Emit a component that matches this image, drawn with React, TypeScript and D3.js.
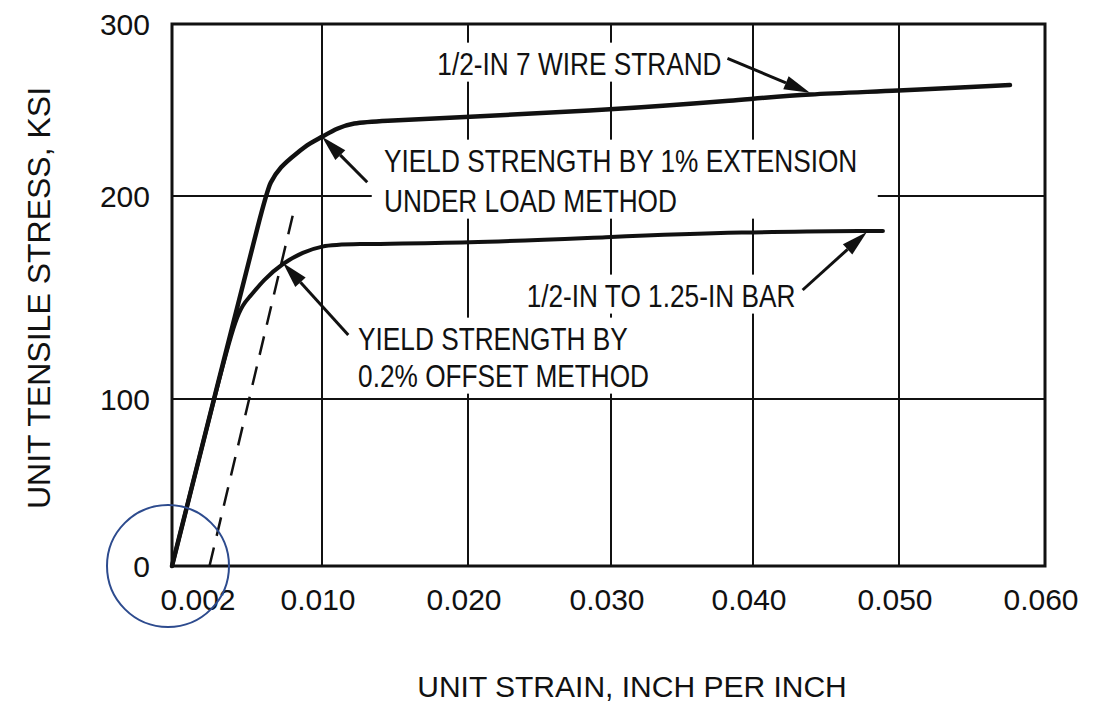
import React, { useEffect, useRef } from 'react';
import * as d3 from 'd3';

// grid lines (strain, ksi)
const gridStrain = [0, 0.01, 0.02, 0.03, 0.04, 0.05, 0.06];
const gridStress = [0, 100, 200, 300];

// tick labels
const xTickValues = [0.002, 0.01, 0.02, 0.03, 0.04, 0.05, 0.06];
const xTickLabels = ['0.002', '0.010', '0.020', '0.030', '0.040', '0.050', '0.060'];
const yTickValues = [0, 100, 200, 300];
const yTickLabels = ['0', '100', '200', '300'];

// 1/2-in 7 wire strand
const strandStrain = [0, 0.0028, 0.0062, 0.00653, 0.0072, 0.00833, 0.0092, 0.01, 0.01103, 0.01212, 0.01377, 0.01993, 0.02972, 0.03908, 0.0437, 0.0496, 0.0576];
const strandStress = [0, 100, 199.5, 207.6, 216.9, 225, 230.8, 234.3, 239.5, 242.4, 243.6, 245.9, 250, 255.8, 259.3, 261, 264.5];

// 1/2-in to 1.25-in bar
const barStrain = [0, 0.0028, 0.00433, 0.0052, 0.00607, 0.0074, 0.00873, 0.01, 0.01144, 0.01993, 0.02972, 0.03908, 0.0489];
const barStress = [0, 100, 143.8, 150.2, 158.6, 167, 172.4, 175.4, 176.4, 176.8, 179.8, 182.3, 182.8];

// 0.2% offset line (dashed)
const offsetStrain = [0.0025, 0.0081];
const offsetStress = [0, 192];

// annotations: first line anchor (strain, stress)
const noteLines = [
  ['1/2-IN 7 WIRE STRAND'],
  ['YIELD STRENGTH BY 1% EXTENSION', 'UNDER LOAD METHOD'],
  ['1/2-IN TO 1.25-IN BAR'],
  ['YIELD STRENGTH BY', '0.2% OFFSET METHOD'],
];
const noteStrain = [0.0179, 0.01425, 0.0241, 0.01247];
const noteStress = [270.3, 213.9, 145.3, 124.1];
const noteLineGap = [0, 40, 0, 37];

// arrows: tail -> tip
const arrowTailStrain = [0.0382, 0.0131, 0.0118, 0.0434];
const arrowTailStress = [280, 208, 131.5, 153.7];
const arrowTipStrain = [0.0439, 0.01, 0.0074, 0.0478];
const arrowTipStress = [260, 234.5, 167, 182.3];

const App = () => {
  const svgRef = useRef<SVGSVGElement>(null);

  useEffect(() => {
    document.body.style.margin = '0';
    d3.select(svgRef.current).selectAll('*').remove();

    const width = 1099;
    const height = 711;
    const svg = d3.select(svgRef.current)
      .attr('width', width)
      .attr('height', height);

    svg.append('rect').attr('width', width).attr('height', height).attr('fill', '#fff');

    // hand-drawn grid is not evenly spaced, so use piecewise scales
    const x = d3.scaleLinear()
      .domain(gridStrain)
      .range([172, 322, 468, 611, 753, 899, 1045]);
    const y = d3.scaleLinear()
      .domain(gridStress)
      .range([566, 399, 196, 24]);

    const sans = "'Liberation Sans', Arial, Helvetica, sans-serif";
    const ink = '#111';

    // gridlines
    svg.append('g')
      .selectAll('line')
      .data(gridStrain.slice(1, -1))
      .join('line')
      .attr('x1', d => x(d)).attr('x2', d => x(d))
      .attr('y1', y(0)).attr('y2', y(300))
      .attr('stroke', ink).attr('stroke-width', 2);

    svg.append('g')
      .selectAll('line')
      .data(gridStress.slice(1, -1))
      .join('line')
      .attr('x1', x(0)).attr('x2', x(0.06))
      .attr('y1', d => y(d)).attr('y2', d => y(d))
      .attr('stroke', ink).attr('stroke-width', 2);

    // frame
    svg.append('rect')
      .attr('x', x(0)).attr('y', y(300))
      .attr('width', x(0.06) - x(0)).attr('height', y(0) - y(300))
      .attr('fill', 'none').attr('stroke', ink).attr('stroke-width', 3);

    // tick labels
    svg.append('g')
      .selectAll('text')
      .data(xTickValues)
      .join('text')
      .attr('x', d => x(d) - 4)
      .attr('y', 610)
      .attr('text-anchor', 'middle')
      .style('font-family', sans).style('font-size', '30px').attr('fill', ink)
      .text((d, i) => xTickLabels[i]);

    svg.append('g')
      .selectAll('text')
      .data(yTickValues)
      .join('text')
      .attr('x', 150)
      .attr('y', d => y(d) + 11)
      .attr('text-anchor', 'end')
      .style('font-family', sans).style('font-size', '30px').attr('fill', ink)
      .text((d, i) => yTickLabels[i]);

    // axis titles
    svg.append('text')
      .attr('x', 632).attr('y', 697)
      .attr('text-anchor', 'middle')
      .style('font-family', sans).style('font-size', '30px').attr('fill', ink)
      .text('UNIT STRAIN, INCH PER INCH');

    svg.append('text')
      .attr('transform', 'translate(50,298) rotate(-90)')
      .attr('text-anchor', 'middle')
      .style('font-family', sans).style('font-size', '32px').attr('fill', ink)
      .text('UNIT TENSILE STRESS, KSI');

    // annotation text (condensed lettering) with white boxes that break the grid
    const notes = svg.append('g');
    noteLines.forEach((lines, i) => {
      const g = notes.append('g')
        .attr('transform', `translate(${x(noteStrain[i])},${y(noteStress[i])}) scale(0.82,1)`);
      const box = g.append('rect').attr('fill', '#fff');
      const t = g.append('text')
        .style('font-family', sans).style('font-size', '32px').attr('fill', ink);
      lines.forEach((line, j) => {
        t.append('tspan')
          .attr('x', 0)
          .attr('dy', j === 0 ? 0 : noteLineGap[i])
          .text(line);
      });
      const bb = (t.node() as SVGTextElement).getBBox();
      box.attr('x', bb.x - 15).attr('y', bb.y - 4)
        .attr('width', bb.width + 40).attr('height', bb.height + 4);
    });

    // curves
    const line = d3.line<[number, number]>()
      .x(d => x(d[0]))
      .y(d => y(d[1]))
      .curve(d3.curveBasis);

    const strand = strandStrain.map((s, i) => [s, strandStress[i]] as [number, number]);
    const bar = barStrain.map((s, i) => [s, barStress[i]] as [number, number]);
    const offset = offsetStrain.map((s, i) => [s, offsetStress[i]] as [number, number]);

    svg.append('path')
      .datum(strand)
      .attr('fill', 'none').attr('stroke', ink).attr('stroke-width', 4.5)
      .attr('stroke-linejoin', 'round').attr('stroke-linecap', 'round')
      .attr('d', line);

    svg.append('path')
      .datum(bar)
      .attr('fill', 'none').attr('stroke', ink).attr('stroke-width', 4)
      .attr('stroke-linejoin', 'round').attr('stroke-linecap', 'round')
      .attr('d', line);

    svg.append('path')
      .datum(offset)
      .attr('fill', 'none').attr('stroke', ink).attr('stroke-width', 2.5)
      .attr('stroke-dasharray', '19,12')
      .attr('d', d3.line<[number, number]>().x(d => x(d[0])).y(d => y(d[1])));

    // arrows
    const arrows = svg.append('g');
    arrowTipStrain.forEach((_, i) => {
      const x0 = x(arrowTailStrain[i]);
      const y0 = y(arrowTailStress[i]);
      const x1 = x(arrowTipStrain[i]);
      const y1 = y(arrowTipStress[i]);
      const len = Math.hypot(x1 - x0, y1 - y0);
      const ux = (x1 - x0) / len;
      const uy = (y1 - y0) / len;
      const head = 26;
      const half = 7;
      const bx = x1 - ux * head;
      const by = y1 - uy * head;
      arrows.append('line')
        .attr('x1', x0).attr('y1', y0).attr('x2', bx).attr('y2', by)
        .attr('stroke', ink).attr('stroke-width', 3);
      arrows.append('path')
        .attr('d', `M${x1},${y1}L${bx - uy * half},${by + ux * half}L${bx + uy * half},${by - ux * half}Z`)
        .attr('fill', ink);
    });

    // blue highlight circle round the origin
    svg.append('circle')
      .attr('cx', x(0) - 4).attr('cy', y(0))
      .attr('r', 61)
      .attr('fill', 'none').attr('stroke', '#2d4b8e').attr('stroke-width', 2);
  }, []);

  return <svg ref={svgRef} style={{ display: 'block' }}></svg>;
};

export default App;
